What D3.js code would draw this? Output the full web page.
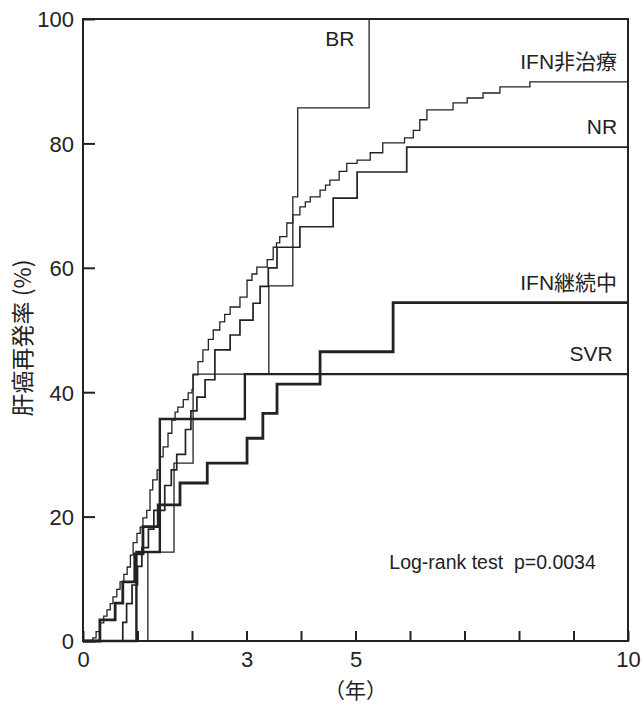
<!DOCTYPE html>
<html>
<head>
<meta charset="utf-8">
<script src="https://cdn.jsdelivr.net/npm/d3@7"></script>
<style>
  html, body { margin: 0; padding: 0; background: #fff; }
  svg text { font-family: "Liberation Sans", Arial, "Noto Sans CJK JP", sans-serif; fill: #222; }
</style>
</head>
<body>
<div id="chart"></div>
<script>
// 軸の目盛
const xTicks = [0, 1, 2, 3, 4, 5, 6, 7, 8, 9, 10];
const xTickLabels = [0, 3, 5, 10];
const yTicks = [0, 20, 40, 60, 80, 100];

// 各群の累積再発率 [年, %]
const nonTreated = [[0, 0], [0.18, 0.5], [0.24, 1.5], [0.31, 2.9], [0.38, 4], [0.44, 5], [0.5, 6], [0.55, 7.1],
  [0.62, 8.3], [0.68, 9.5], [0.75, 10.7], [0.81, 11.9], [0.87, 13.8], [0.92, 15.8], [0.99, 17.3], [1.05, 18.3],
  [1.1, 19.8], [1.17, 21], [1.23, 24.3], [1.28, 25.9], [1.36, 27.5], [1.41, 29.6], [1.47, 31.2], [1.56, 33.4],
  [1.63, 35.5], [1.69, 36.8], [1.74, 37.6], [1.84, 38.8], [1.93, 39.9], [2.0, 40.4], [2.02, 42.8], [2.11, 44.9],
  [2.2, 46.8], [2.3, 48.5], [2.39, 50], [2.51, 51.3], [2.6, 52.5], [2.7, 53.7], [2.88, 55.3], [3.01, 58],
  [3.1, 59], [3.19, 60.1], [3.38, 61.3], [3.49, 63.3], [3.55, 64], [3.61, 65], [3.74, 67.2], [3.85, 68.5],
  [3.98, 69.8], [4.08, 70.6], [4.17, 71.4], [4.35, 72.5], [4.45, 73.3], [4.53, 74.1], [4.7, 75.5], [4.84, 76.8],
  [5.03, 77.3], [5.27, 78.5], [5.5, 80.1], [5.9, 80.9], [6.06, 82.1], [6.18, 83.8], [6.31, 85.4], [6.79, 86.5],
  [7.05, 87.3], [7.34, 88.1], [7.65, 89.1], [8.2, 89.9], [10, 89.9]];
const nr = [[0, 0], [0.73, 3], [0.8, 6], [0.9, 9], [1.0, 12], [1.08, 15], [1.2, 18], [1.3, 21], [1.5, 25],
  [1.62, 27.5], [1.72, 30], [1.88, 34], [1.98, 37], [2.09, 39.2], [2.24, 42], [2.42, 46.8], [2.7, 49.2],
  [2.88, 51.6], [3.12, 54.3], [3.25, 57], [3.4, 60], [3.56, 63.3], [3.98, 66.6], [4.59, 71.2], [5.03, 75.4],
  [5.94, 79.4], [10, 79.4]];
const br = [[0, 0], [1.19, 14.3], [1.67, 28.6], [2.02, 42.9], [3.41, 57.1], [3.85, 71.4], [3.94, 85.7],
  [5.25, 100], [10, 100]];
const continuing = [[0, 0], [0.31, 3.4], [0.59, 6.1], [0.73, 9.5], [0.95, 14], [1.1, 18.4], [1.38, 21.9],
  [1.78, 25.4], [2.28, 28.6], [3.01, 32.6], [3.3, 36.6], [3.56, 41.3], [4.35, 46.5], [5.69, 54.4], [10, 54.4]];
const svr = [[0, 0], [0.98, 14.3], [1.41, 35.7], [2.97, 42.9], [10, 42.9]];

const W = 644, H = 707;
const svg = d3.select('#chart').append('svg')
    .attr('width', W)
    .attr('height', H);

const x = d3.scaleLinear().domain([0, 10]).range([83, 628]);
const y = d3.scaleLinear().domain([0, 100]).range([641, 19]);
const ink = '#222';

// 曲線
const line = d3.line()
    .x(d => x(d[0]))
    .y(d => y(d[1]))
    .curve(d3.curveStepAfter);

const curves = [
    { data: nonTreated, w: 1.3 },
    { data: nr, w: 1.7 },
    { data: br, w: 1.3 },
    { data: svr, w: 2.4 },
    { data: continuing, w: 2.8 }
];
svg.selectAll('.curve')
    .data(curves)
    .enter()
    .append('path')
    .attr('class', 'curve')
    .attr('d', d => line(d.data))
    .attr('fill', 'none')
    .attr('stroke', ink)
    .attr('stroke-width', d => d.w)
    .attr('stroke-linejoin', 'miter');

// 枠
svg.append('rect')
    .attr('x', x(0))
    .attr('y', y(100))
    .attr('width', x(10) - x(0))
    .attr('height', y(0) - y(100))
    .attr('fill', 'none')
    .attr('stroke', ink)
    .attr('stroke-width', 2);

// Y軸 (目盛は内向き)
const yAxis = svg.append('g')
    .attr('transform', `translate(${x(0)},0)`)
    .call(d3.axisLeft(y).tickValues(yTicks).tickSizeInner(-12).tickSizeOuter(0).tickPadding(9));
yAxis.select('.domain').remove();
yAxis.selectAll('line').attr('stroke', ink).attr('stroke-width', 2);
yAxis.selectAll('text')
    .attr('dy', '0.36em')
    .style('font-size', '22px');

// X軸
const xAxis = svg.append('g')
    .attr('transform', `translate(0,${y(0)})`)
    .call(d3.axisBottom(x).tickValues(xTicks).tickSizeInner(-10).tickSizeOuter(0).tickPadding(10)
        .tickFormat(d => xTickLabels.includes(d) ? d : ''));
xAxis.select('.domain').remove();
xAxis.selectAll('line').attr('stroke', ink).attr('stroke-width', 2);
xAxis.selectAll('text')
    .attr('dy', '0.72em')
    .style('font-size', '22px');

// 軸タイトル
svg.append('text')
    .attr('transform', `translate(31,${(y(0) + y(100)) / 2 + 8}) rotate(-90)`)
    .attr('text-anchor', 'middle')
    .style('font-size', '23px')
    .style('font-family', '"Noto Sans CJK JP", sans-serif')
    .style('white-space', 'pre')
    .text('肝癌再発率 (%)');

svg.append('text')
    .attr('x', x(5))
    .attr('y', 698)
    .attr('text-anchor', 'middle')
    .style('font-size', '21px')
    .style('font-family', '"Noto Sans CJK JP", sans-serif')
    .text('（年）');

// 群ラベル
const labels = [
    { t: 'BR', xv: 4.98, yv: 100, dy: 27, anchor: 'end' },
    { t: 'IFN非治療', xv: 9.8, yv: 89.9, dy: -13, anchor: 'end' },
    { t: 'NR', xv: 9.8, yv: 79.4, dy: -13, anchor: 'end' },
    { t: 'IFN継続中', xv: 9.8, yv: 54.4, dy: -13, anchor: 'end' },
    { t: 'SVR', xv: 9.72, yv: 42.9, dy: -13, anchor: 'end' }
];
svg.selectAll('.glabel')
    .data(labels)
    .enter()
    .append('text')
    .attr('class', 'glabel')
    .attr('x', d => x(d.xv))
    .attr('y', d => y(d.yv) + d.dy)
    .attr('text-anchor', d => d.anchor)
    .style('font-size', '21px')
    .text(d => d.t);

svg.append('text')
    .attr('x', x(5.62))
    .attr('y', y(11.5))
    .style('font-size', '19.5px')
    .style('white-space', 'pre')
    .text('Log-rank test  p=0.0034');
</script>
</body>
</html>
